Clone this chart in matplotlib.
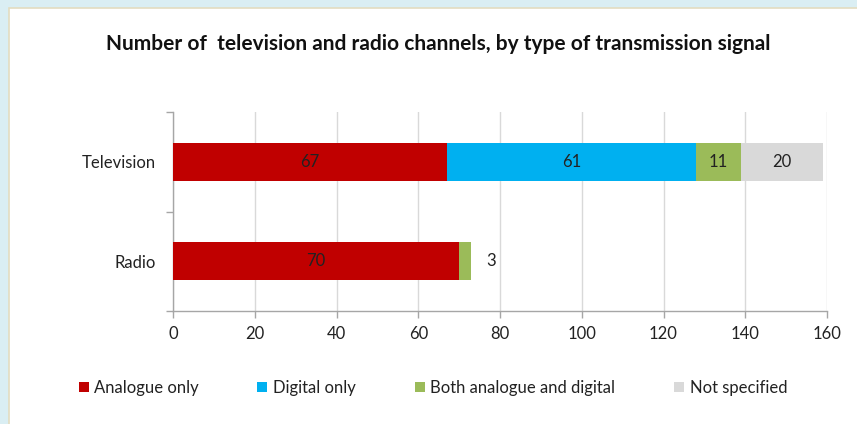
import matplotlib.pyplot as plt
from matplotlib.patches import Rectangle

plt.rcParams['font.family'] = ['Lato', 'DejaVu Sans']

# data
categories = ['Television', 'Radio']
series_names = ['Analogue only', 'Digital only', 'Both analogue and digital', 'Not specified']
analogue = [67, 70]
digital = [61, 0]
both = [11, 3]
not_specified = [20, 0]
colors = ['#C00000', '#00B0F0', '#9BBB59', '#D9D9D9']

fig = plt.figure(figsize=(8.57, 4.24), dpi=100)
fig.patch.set_facecolor('#DAEEF3')
# white panel with thin beige border
fig.add_artist(Rectangle((9 / 857, -0.05), 1, 1.05 - 8 / 424, transform=fig.transFigure,
                         facecolor='white', edgecolor='#E3DCC0', linewidth=1.2, zorder=0))

ax = fig.add_axes([173 / 857, 1 - 311 / 424, 654 / 857, 199 / 424])
ax.set_facecolor('none')

ypos = list(range(len(categories)))
left = [0] * len(categories)
all_series = [analogue, digital, both, not_specified]
containers = []
for name, vals, col in zip(series_names, all_series, colors):
    bc = ax.barh(ypos, vals, left=left, height=0.38, color=col, label=name, zorder=3)
    containers.append(bc)
    left = [l + v for l, v in zip(left, vals)]

# value labels
fs = 12
ax.bar_label(containers[0], labels=[str(v) for v in analogue], label_type='center', fontsize=fs, color='#222222')
ax.bar_label(containers[1], labels=[str(digital[0]), ''], label_type='center', fontsize=fs, color='#222222')
ax.bar_label(containers[2], labels=[str(both[0]), ''], label_type='center', fontsize=fs, color='#222222')
ax.bar_label(containers[2], labels=['', str(both[1])], label_type='edge', padding=11, fontsize=fs, color='#222222')
ax.bar_label(containers[3], labels=[str(not_specified[0]), ''], label_type='center', fontsize=fs, color='#222222')

ax.set_xlim(0, 160)
ax.set_xticks(range(0, 161, 20))
ax.set_ylim(len(categories) - 0.5, -0.5)
ax.set_yticks(ypos)
ax.set_yticklabels(categories)
ax.set_yticks([-0.5, 0.5, 1.5], minor=True)
ax.tick_params(axis='y', which='major', length=0, pad=12)
ax.tick_params(axis='y', which='minor', length=5, color='#A6A6A6', width=1)
ax.tick_params(axis='x', length=5, color='#A6A6A6', width=1, pad=6)
ax.tick_params(labelsize=12, labelcolor='#222222')

ax.grid(axis='x', color='#D9D9D9', linewidth=1, zorder=0)
for s in ['top', 'right']:
    ax.spines[s].set_visible(False)
for s in ['left', 'bottom']:
    ax.spines[s].set_color('#A6A6A6')
    ax.spines[s].set_linewidth(1)

fig.text(0.511, 1 - 44 / 424, 'Number of  television and radio channels, by type of transmission signal',
         ha='center', va='center', fontsize=15, fontweight='bold', color='#111111')

fig.legend(loc='center', bbox_to_anchor=(0.505, 1 - 388 / 424), ncol=4, frameon=False,
           fontsize=12, handlelength=0.6, handleheight=0.6, handletextpad=0.35,
           columnspacing=3.5, labelcolor='#222222')

fig.savefig('out.png', dpi=100, facecolor=fig.get_facecolor())
